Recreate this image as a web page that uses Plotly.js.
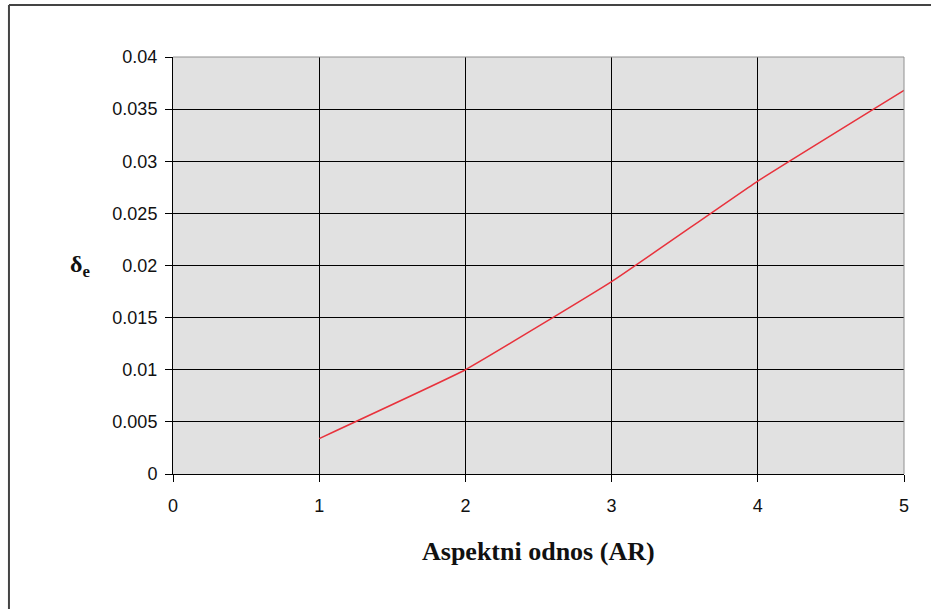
<!DOCTYPE html>
<html>
<head>
<meta charset="utf-8">
<script src="https://cdn.plot.ly/plotly-3.0.1.min.js"></script>
<style>html,body{margin:0;padding:0;background:#fff;}#chart{width:931px;height:609px;}</style>
</head>
<body>
<div id="chart"></div>
<script>
const aspectRatio = [1, 2, 3, 4, 5];
const deltaE = [0.0034, 0.0100, 0.01845, 0.0281, 0.0368];
const xTicks = [0, 1, 2, 3, 4, 5];
const yTicks = [0, 0.005, 0.01, 0.015, 0.02, 0.025, 0.03, 0.035, 0.04];
const yTickLabels = ['0', '0.005', '0.01', '0.015', '0.02', '0.025', '0.03', '0.035', '0.04'];

const trace = {
  x: aspectRatio, y: deltaE, type: 'scatter', mode: 'lines',
  line: {color: '#e8323c', width: 1.5, shape: 'spline', smoothing: 0.3},
  hoverinfo: 'skip'
};

const layout = {
  width: 931, height: 609,
  margin: {l: 173, r: 27, t: 57, b: 135},
  paper_bgcolor: '#ffffff',
  plot_bgcolor: '#e1e1e1',
  showlegend: false,
  font: {family: 'Liberation Sans, Arial, sans-serif', color: '#111'},
  xaxis: {
    range: [0, 5], tickvals: xTicks, ticktext: xTicks.map(String),
    showgrid: true, gridcolor: '#000', gridwidth: 1, zeroline: false,
    showline: true, linecolor: '#000', linewidth: 1,
    ticks: 'outside', ticklen: 7, tickcolor: '#000', tickwidth: 1,
    tickfont: {size: 18, family: 'Liberation Sans, Arial, sans-serif', color: '#111'},
    ticklabelstandoff: 8, fixedrange: true
  },
  yaxis: {
    range: [0, 0.04], tickvals: yTicks, ticktext: yTickLabels,
    showgrid: true, gridcolor: '#000', gridwidth: 1, zeroline: false,
    showline: true, linecolor: '#000', linewidth: 1,
    ticks: 'outside', ticklen: 7, tickcolor: '#000', tickwidth: 1,
    tickfont: {size: 18, family: 'Liberation Sans, Arial, sans-serif', color: '#111'},
    ticklabelstandoff: 4, fixedrange: true
  },
  shapes: [
    {type: 'line', xref: 'paper', yref: 'paper', x0: 0, x1: 1, y0: 1, y1: 1, line: {color: '#909090', width: 1}},
    {type: 'line', xref: 'paper', yref: 'paper', x0: 1, x1: 1, y0: 0, y1: 1, line: {color: '#909090', width: 1}},
    {type: 'line', xref: 'paper', yref: 'paper', x0: -0.2244, x1: 1.04, y0: 1.1246, y1: 1.1246, line: {color: '#444', width: 2}},
    {type: 'line', xref: 'paper', yref: 'paper', x0: -0.2244, x1: -0.2244, y0: -0.33, y1: 1.1246, line: {color: '#444', width: 2}}
  ],
  annotations: [
    {text: '<b>δ<sub>e</sub></b>', xref: 'paper', yref: 'paper', x: -0.127, y: 0.5, xanchor: 'center', yanchor: 'middle',
     showarrow: false, font: {family: 'Liberation Serif, Times New Roman, serif', size: 24, color: '#111'}},
    {text: '<b>Aspektni odnos (AR)</b>', xref: 'paper', yref: 'paper', x: 0.5, y: -0.187, xanchor: 'center', yanchor: 'middle',
     showarrow: false, font: {family: 'Liberation Serif, Times New Roman, serif', size: 26, color: '#111'}}
  ]
};

Plotly.newPlot('chart', [trace], layout, {displayModeBar: false, staticPlot: true});
</script>
</body>
</html>
